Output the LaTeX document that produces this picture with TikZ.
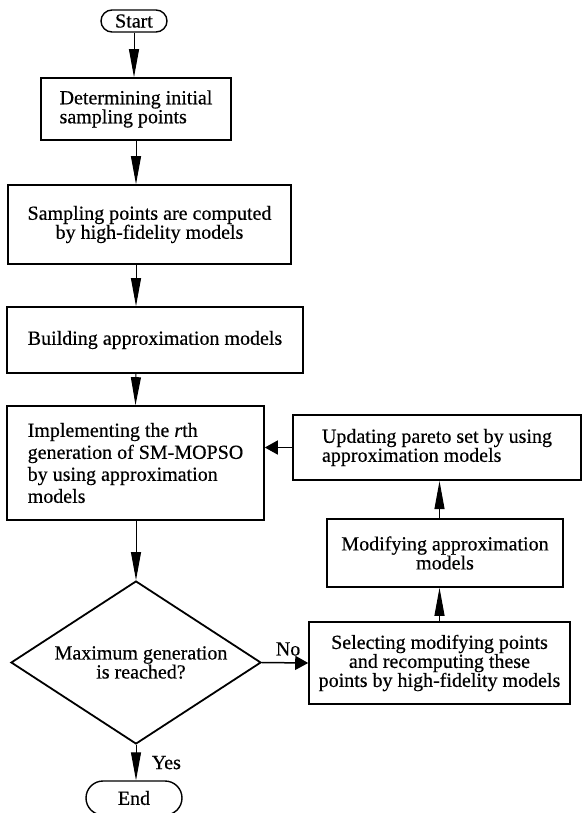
\documentclass[tikz,border=0pt]{standalone}
\usepackage{fontspec}
\setmainfont[FakeBold=0.5]{Liberation Serif}
\usetikzlibrary{shapes.geometric,shapes.misc,arrows.meta}

\tikzset{
  procbox/.style={draw, line width=1.6pt, align=center, inner sep=2pt},
  termbox/.style={draw, rounded rectangle, line width=1.4pt, inner sep=0pt},
  decbox/.style={draw, diamond, line width=1.8pt, aspect=1.53, inner sep=0pt, align=center},
  vline/.style={line width=1pt, -{Triangle[length=28pt,width=10pt]}},
  hline/.style={line width=1.5pt, -{Triangle[length=13pt,width=14pt]}}
}

\begin{document}
\begin{tikzpicture}[x=1pt, y=-1pt, font=\fontsize{20}{19}\selectfont]
  \useasboundingbox (0,0) rectangle (582,813);

  \node[termbox, minimum width=66pt, minimum height=22pt] (start) at (134,21) {Start};
  \node[procbox, minimum width=190pt, minimum height=62pt, align=left] (init) at (136,109)
       {Determining initial\\sampling points};
  \node[procbox, minimum width=283pt, minimum height=79pt] (hifi) at (149.5,224.5)
       {Sampling points are computed\\by high-fidelity models};
  \node[procbox, minimum width=296pt, minimum height=66pt] (build) at (155,340)
       {Building approximation models};
  \node[procbox, minimum width=257pt, minimum height=114pt, align=left,
        font=\fontsize{20}{22}\selectfont] (mopso) at (135.5,463)
       {Implementing the \textit{r}th\\generation of SM-MOPSO\\by using approximation\\models};
  \node[decbox, minimum width=250pt, minimum height=163pt] (maxgen) at (136,662.5)
       {\hspace*{10pt}Maximum generation\\\hspace*{10pt}is reached?};
  \node[termbox, minimum width=96pt, minimum height=34pt] (end) at (134,798) {End};

  \node[procbox, line width=2.2pt, minimum width=288pt, minimum height=65pt, align=left] (update) at (437,447.5)
       {Updating pareto set by using\\approximation models};
  \node[procbox, minimum width=236pt, minimum height=68pt] (modify) at (445,553)
       {Modifying approximation\\models};
  \node[procbox, minimum width=261pt, minimum height=82pt] (select) at (439.5,663)
       {Selecting modifying points\\and recomputing these\\points by high-fidelity models};

  \draw[vline] (start.south) -- (start.south |- init.north);
  \draw[vline] (init.south) -- (init.south |- hifi.north);
  \draw[vline] (init.south |- hifi.south) -- (init.south |- build.north);
  \draw[vline] (init.south |- build.south) -- (mopso.north);
  \draw[vline] (mopso.south -| maxgen.north) -- (maxgen.north);
  \draw[vline] (maxgen.south) -- (maxgen.south |- end.north)
       node[midway, right=12pt] {Yes};
  \draw[hline] (maxgen.east) -- (select.west) node[midway, above=3pt, xshift=3pt] {No};

  \draw[vline] (select.north) -- (select.north |- modify.south);
  \draw[vline] (select.north |- modify.north) -- (select.north |- update.south);
  \draw[hline] (update.west) -- (update.west -| mopso.east);
\end{tikzpicture}
\end{document}
